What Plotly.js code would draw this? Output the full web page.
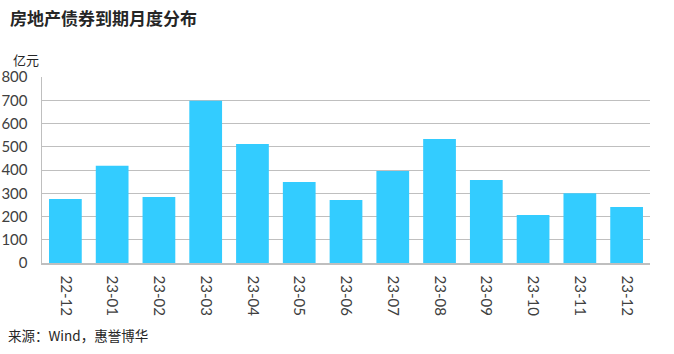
<!DOCTYPE html>
<html>
<head>
<meta charset="utf-8">
<script src="https://cdn.plot.ly/plotly-3.0.1.min.js"></script>
<style>html,body{margin:0;padding:0;background:#fff;}#chart{width:674px;height:354px;}</style>
</head>
<body>
<div id="chart"></div>
<script>
const months = ["22-12","23-01","23-02","23-03","23-04","23-05","23-06","23-07","23-08","23-09","23-10","23-11","23-12"];
const amounts = [275, 418, 284, 698, 512, 348, 271, 396, 533, 357, 206, 300, 241];
const yTicks = [0,100,200,300,400,500,600,700,800];

const trace = {
  type: "bar",
  x: months,
  y: amounts,
  marker: {color: "#33CCFF"},
  hoverinfo: "x+y"
};

const layout = {
  width: 674, height: 354,
  margin: {l: 42, r: 24, t: 77, b: 91},
  paper_bgcolor: "#fff", plot_bgcolor: "#fff",
  bargap: 0.3,
  showlegend: false,
  font: {family: "Lato, 'Noto Sans CJK SC', sans-serif", color: "#404040", size: 15},
  xaxis: {
    type: "category",
    tickangle: 90,
    showline: true, linecolor: "#BFBFBF", linewidth: 1.5,
    showgrid: false, ticks: "",
    ticklabelstandoff: 8,
    tickfont: {size: 15, color: "#404040", family: "Lato, sans-serif"}
  },
  yaxis: {
    range: [0, 800],
    tickvals: yTicks,
    showline: true, linecolor: "#BFBFBF", linewidth: 1.5,
    showgrid: true, gridcolor: "#BFBFBF", gridwidth: 1,
    zeroline: false, ticks: "",
    ticklabelstandoff: 10,
    tickfont: {size: 15, color: "#404040", family: "Lato, sans-serif"}
  },
  annotations: [
    {text: "<b>房地产债券到期月度分布</b>", xref: "paper", yref: "paper", x: -34/608, y: 1 + (77-17)/186, xanchor: "left", yanchor: "middle", showarrow: false,
     font: {size: 17, color: "#262626", family: "'Noto Sans CJK SC', sans-serif"}},
    {text: "亿元", xref: "paper", yref: "paper", x: -31/608, y: 1 + (77-59)/186, xanchor: "left", yanchor: "middle", showarrow: false,
     font: {size: 13, color: "#262626", family: "'Noto Sans CJK SC', sans-serif"}},
    {text: "来源：Wind，惠誉博华", xref: "paper", yref: "paper", x: -36/608, y: -(335-263)/186, xanchor: "left", yanchor: "middle", showarrow: false,
     font: {size: 13.5, color: "#262626", family: "'Noto Sans CJK SC', sans-serif"}}
  ]
};

Plotly.newPlot("chart", [trace], layout, {displayModeBar: false, staticPlot: true});
</script>
</body>
</html>
